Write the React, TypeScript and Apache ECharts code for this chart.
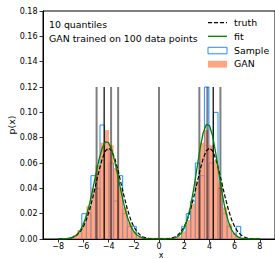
import React, { useEffect, useRef } from "react";
import * as echarts from "echarts";

const BIN_WIDTH = 0.36;
const binStarts = [
  -7.56, -7.2, -6.84, -6.48, -6.12, -5.76, -5.4, -5.04, -4.68, -4.32, -3.96, -3.6, -3.24,
  -2.88, -2.52, -2.16, -1.8, -1.44, -1.08, -0.72, -0.36, 0.0, 0.36, 0.72, 1.08, 1.44, 1.8,
  2.16, 2.52, 2.88, 3.24, 3.6, 3.96, 4.32, 4.68, 5.04, 5.4, 5.76, 6.12,
];
const sampleHeights = [
  0, 0, 0, 0, 0.02, 0.02, 0.05, 0.04, 0.09, 0.07, 0.06, 0.03, 0.05,
  0.02, 0.01, 0.01, 0, 0, 0, 0, 0, 0, 0, 0, 0, 0, 0.01,
  0.02, 0.03, 0.06, 0.05, 0.12, 0.06, 0.1, 0.04, 0.02, 0.01, 0, 0.01,
];
const ganHeights = [
  0.0005, 0.001, 0.003, 0.007, 0.013, 0.026, 0.04, 0.058, 0.076, 0.086, 0.074, 0.056, 0.04,
  0.025, 0.013, 0.006, 0.002, 0.001, 0.001, 0.001, 0.001, 0.001, 0.001, 0.001, 0.001, 0.002, 0.006,
  0.015, 0.028, 0.046, 0.076, 0.086, 0.074, 0.062, 0.045, 0.025, 0.012, 0.005, 0.002,
];

const curveX = [
  -8, -7.75, -7.5, -7.25, -7, -6.75, -6.5, -6.25, -6, -5.75, -5.5, -5.25, -5, -4.75, -4.5, -4.25,
  -4, -3.75, -3.5, -3.25, -3, -2.75, -2.5, -2.25, -2, -1.75, -1.5, -1.25, -1, -0.75, -0.5, -0.25,
  0,
  0.25, 0.5, 0.75, 1, 1.25, 1.5, 1.75, 2, 2.25, 2.5, 2.75, 3, 3.25, 3.5, 3.75,
  4, 4.25, 4.5, 4.75, 5, 5.25, 5.5, 5.75, 6, 6.25, 6.5, 6.75, 7, 7.25, 7.5, 7.75, 8,
];
const truthY = [
  0.0, 0.0001, 0.0002, 0.0004, 0.0008, 0.0016, 0.0032, 0.0057, 0.0097, 0.0155, 0.0233, 0.0329, 0.0435, 0.0542, 0.0634, 0.0696,
  0.0718, 0.0696, 0.0634, 0.0542, 0.0435, 0.0329, 0.0233, 0.0155, 0.0097, 0.0057, 0.0032, 0.0016, 0.0008, 0.0004, 0.0002, 0.0001,
  0.0001,
  0.0001, 0.0002, 0.0004, 0.0008, 0.0016, 0.0032, 0.0057, 0.0097, 0.0155, 0.0233, 0.0329, 0.0435, 0.0542, 0.0634, 0.0696,
  0.0718, 0.0696, 0.0634, 0.0542, 0.0435, 0.0329, 0.0233, 0.0155, 0.0097, 0.0057, 0.0032, 0.0016, 0.0008, 0.0004, 0.0002, 0.0001, 0.0,
];
const fitY = [
  0.0, 0.0001, 0.0002, 0.0004, 0.0009, 0.0018, 0.0036, 0.0067, 0.0116, 0.0187, 0.0281, 0.0394, 0.0516, 0.0631, 0.0719, 0.0766,
  0.076, 0.0705, 0.0609, 0.0492, 0.037, 0.026, 0.017, 0.0104, 0.0059, 0.0032, 0.0016, 0.0007, 0.0003, 0.0001, 0.0001, 0.0,
  0.0,
  0.0, 0.0, 0.0001, 0.0003, 0.0008, 0.002, 0.0043, 0.0085, 0.0155, 0.0258, 0.0394, 0.0552, 0.0709, 0.0836, 0.0904,
  0.0896, 0.0815, 0.0679, 0.052, 0.0364, 0.0234, 0.0138, 0.0075, 0.0037, 0.0017, 0.0007, 0.0003, 0.0001, 0.0, 0.0, 0.0, 0.0,
];

const quantileGray = [-4.95, -3.8, -3.24, 0, 3.2, 3.83, 4.87];
const quantileBlack = [-4.35, 4.3];
const QUANTILE_TOP = 0.12;
const xTicks = [-8, -6, -4, -2, 0, 2, 4, 6, 8];

const FONT = "DejaVu Sans";
const BLUE = "#1e90ff";
const SALMON = "rgba(255,127,80,0.7)";
const GREEN = "#008000";

const fmtX = (v: number) => (v < 0 ? "\u2212" + Math.abs(v) : String(v));

export default function App() {
  const ref = useRef<HTMLDivElement>(null);
  useEffect(() => {
    document.body.style.margin = "0";
    if (!ref.current) return;
    const chart = echarts.init(ref.current, undefined, { renderer: "svg" });

    const histRender = (fill: string, stroke: string | null) => (params: any, api: any) => {
      const x0 = api.value(0);
      const h = api.value(1);
      const p0 = api.coord([x0, h]);
      const p1 = api.coord([x0 + BIN_WIDTH, 0]);
      return {
        type: "rect",
        shape: { x: p0[0], y: p0[1], width: p1[0] - p0[0], height: p1[1] - p0[1] },
        style: stroke ? { fill, stroke, lineWidth: 1 } : { fill },
      };
    };
    const vlineRender = (stroke: string, lineWidth: number) => (params: any, api: any) => {
      const x = api.value(0);
      const top = api.value(1);
      const a = api.coord([x, 0]);
      const b = api.coord([x, top]);
      return {
        type: "line",
        shape: { x1: a[0], y1: a[1], x2: b[0], y2: b[1] },
        style: { stroke, lineWidth },
      };
    };

    const sampleData = binStarts
      .map((b, i) => [b, sampleHeights[i]])
      .filter((d) => d[1] > 0);
    const ganData = binStarts.map((b, i) => [b, ganHeights[i]]).filter((d) => d[1] > 0);

    const textStyle = { fontFamily: FONT, fontSize: 9.4, fill: "#000" };
    const lx = 208;
    const lw = 19;
    const tx = 234;

    chart.setOption({
      animation: false,
      grid: {
        left: 43,
        top: 11,
        width: 235.5,
        height: 228,
        show: true,
        borderColor: "#000",
        borderWidth: 1,
      },
      xAxis: {
        type: "value",
        min: -9.2,
        max: 9.2,
        axisLine: { show: true, onZero: false, lineStyle: { color: "#000", width: 1 } },
        axisTick: {
          show: true,
          length: 3.5,
          customValues: xTicks,
          lineStyle: { color: "#000", width: 0.8 },
        },
        axisLabel: {
          customValues: xTicks,
          formatter: fmtX,
          fontFamily: FONT,
          fontSize: 8,
          color: "#000",
          margin: 3.5,
        },
        splitLine: { show: false },
      },
      yAxis: {
        type: "value",
        min: 0,
        max: 0.18,
        interval: 0.02,
        axisLine: { show: true, onZero: false, lineStyle: { color: "#000", width: 1 } },
        axisTick: { show: true, length: 3.5, lineStyle: { color: "#000", width: 0.8 } },
        axisLabel: {
          formatter: (v: number) => v.toFixed(2),
          fontFamily: FONT,
          fontSize: 8,
          color: "#000",
          margin: 5.5,
        },
        splitLine: { show: false },
      },
      series: [
        {
          type: "custom",
          name: "Sample",
          renderItem: histRender("none", BLUE),
          data: sampleData,
          clip: true,
        },
        {
          type: "custom",
          name: "GAN",
          renderItem: histRender(SALMON, null),
          data: ganData,
          clip: true,
        },
        {
          type: "custom",
          renderItem: vlineRender("rgba(0,0,0,0.5)", 2),
          data: quantileGray.map((x) => [x, QUANTILE_TOP]),
          clip: true,
        },
        {
          type: "custom",
          renderItem: vlineRender("#000", 1.2),
          data: quantileBlack.map((x) => [x, QUANTILE_TOP]),
          clip: true,
        },
        {
          type: "line",
          name: "truth",
          data: curveX.map((x, i) => [x, truthY[i]]),
          showSymbol: false,
          symbol: "none",
          lineStyle: { color: "#000", width: 1.2, type: [4, 2] },
          clip: true,
        },
        {
          type: "line",
          name: "fit",
          data: curveX.map((x, i) => [x, fitY[i]]),
          showSymbol: false,
          symbol: "none",
          lineStyle: { color: GREEN, width: 1.3 },
          clip: true,
        },
      ],
      graphic: [
        { type: "text", left: 49, top: 19.5, style: { ...textStyle, text: "10 quantiles" } },
        {
          type: "text",
          left: 49,
          top: 34,
          style: { ...textStyle, text: "GAN trained on 100 data points" },
        },
        {
          type: "line",
          shape: { x1: lx, y1: 22.7, x2: lx + lw, y2: 22.7 },
          style: { stroke: "#000", lineWidth: 1.2, lineDash: [4, 2] },
        },
        {
          type: "text",
          x: tx,
          y: 22.7,
          style: { ...textStyle, text: "truth", verticalAlign: "middle" },
        },
        {
          type: "line",
          shape: { x1: lx, y1: 36.3, x2: lx + lw, y2: 36.3 },
          style: { stroke: GREEN, lineWidth: 1.3 },
        },
        {
          type: "text",
          x: tx,
          y: 36.3,
          style: { ...textStyle, text: "fit", verticalAlign: "middle" },
        },
        {
          type: "rect",
          shape: { x: lx, y: 47.3, width: lw, height: 6.5 },
          style: { fill: "#fff", stroke: BLUE, lineWidth: 1 },
        },
        {
          type: "text",
          x: tx,
          y: 50.5,
          style: { ...textStyle, text: "Sample", verticalAlign: "middle" },
        },
        {
          type: "rect",
          shape: { x: lx, y: 60.8, width: lw, height: 6.8 },
          style: { fill: SALMON },
        },
        {
          type: "text",
          x: tx,
          y: 63.8,
          style: { ...textStyle, text: "GAN", verticalAlign: "middle" },
        },
        {
          type: "text",
          x: 11,
          y: 125,
          rotation: Math.PI / 2,
          style: { ...textStyle, text: "p(x)", align: "center", verticalAlign: "middle" },
        },
        {
          type: "text",
          x: 161,
          y: 259,
          style: {
            fontFamily: FONT,
            fontSize: 8,
            fill: "#000",
            text: "x",
            align: "center",
            verticalAlign: "bottom",
          },
        },
      ],
    });
    return () => chart.dispose();
  }, []);
  return <div ref={ref} style={{ width: 275, height: 259 }} />;
}
